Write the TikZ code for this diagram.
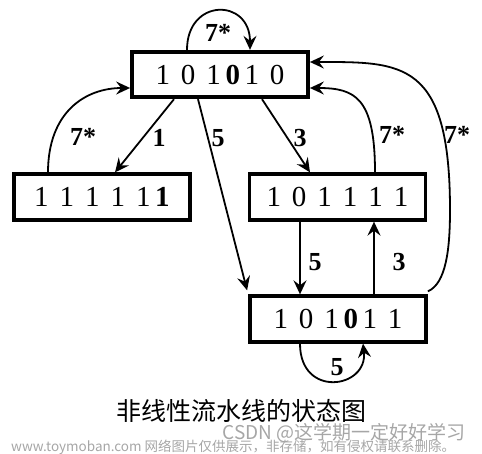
\documentclass[tikz,border=0pt]{standalone}
\usepackage{fontspec}
\setmainfont{Liberation Serif}
\newfontfamily\cjk{Noto Sans CJK SC}
\usetikzlibrary{arrows.meta,calc}
\newcommand\ga{\hspace{11pt}}
\newcommand\gb{\hspace{4.5pt}}
\begin{document}
\begin{tikzpicture}[x=1pt,y=-1pt,
  state/.style={draw,line width=3.8pt,minimum width=176pt,minimum height=45.5pt,inner sep=0pt,font=\fontsize{29}{29}\selectfont},
  conn/.style={line width=1.8pt,-{Stealth[length=14pt,width=13pt,inset=5pt]}},
  lab/.style={font=\fontsize{26}{26}\selectfont\bfseries,inner sep=0pt},
  title/.style={font=\cjk\fontsize{25}{25}\selectfont,inner sep=0pt},
  wm/.style={font=\cjk\fontsize{19}{19}\selectfont,inner sep=0pt,text=black!35},
  wms/.style={font=\cjk\fontsize{13.5}{13.5}\selectfont,inner sep=0pt,text=black!35}
]
\useasboundingbox (0,0) rectangle (482,453);

\node[state] (top) at (220,74.5) {1\ga0\ga1\gb\textbf{0}\gb1\ga0};
\node[state] (left) at (102,197) {1\ga1\ga1\ga1\ga1\gb\textbf{1}};
\node[state] (right) at (337.5,197) {1\ga0\ga1\ga1\ga1\ga1};
\node[state] (bottom) at (338,319) {1\ga0\ga1\gb\textbf{0}\gb1\ga1};

% anchor points
\coordinate (tl1) at ($(top.north)+(-33,0)$);
\coordinate (tl2) at ($(top.north)+(30,0)$);
\coordinate (t1) at ($(top.south)+(-46,0)$);
\coordinate (l1) at ($(left.north)+(13,0)$);
\coordinate (t5) at ($(top.south)+(-22,0)$);
\coordinate (b5) at ($(bottom.north west)+(-1,-4)$);
\coordinate (t3) at ($(top.south)+(42,0)$);
\coordinate (r3) at ($(right.north)+(-27.5,0)$);
\coordinate (r7) at ($(right.north)+(37.5,0)$);
\coordinate (t7r) at ($(top.east)+(0,13.5)$);
\coordinate (b7) at ($(bottom.north east)+(0,-3)$);
\coordinate (m) at (450,210);
\coordinate (t7b) at ($(top.east)+(0,-12.5)$);
\coordinate (l7) at ($(left.north)+(-54,0)$);
\coordinate (t7l) at ($(top.west)+(0,13.5)$);
\coordinate (r5) at ($(right.south)+(-37.5,0)$);
\coordinate (b5n) at ($(bottom.north)+(-38,0)$);
\coordinate (b3) at ($(bottom.north)+(36,0)$);
\coordinate (r3s) at ($(right.south)+(36.5,0)$);
\coordinate (bl1) at ($(bottom.south)+(-38,0)$);
\coordinate (bl2) at ($(bottom.south)+(25,0)$);

% connectors
\draw[conn] (tl1) .. controls +(0,-52) and +(0,-52) .. (tl2);
\draw[conn] (t1) -- (l1);
\draw[conn] (t5) -- (b5);
\draw[conn] (t3) -- (r3);
\draw[conn] (r7) .. controls +(0,-75) and +(45,0) .. (t7r);
\draw[conn] (b7) .. controls +(18,-8) and +(0,40) .. (m) .. controls +(0,-150) and +(92,0) .. (t7b);
\draw[conn] (l7) .. controls +(0,-60) and +(-45,0) .. (t7l);
\draw[conn] (r5) -- (b5n);
\draw[conn] (b3) -- (r3s);
\draw[conn] (bl1) .. controls +(0,55) and +(5,45) .. (bl2);

% labels
\node[lab] (la) at (218,33) {7*};
\node[lab] (lb) at (159,138) {1};
\node[lab] (lc) at (218,138) {5};
\node[lab] (ld) at (300,138) {3};
\node[lab] (le) at (392,135) {7*};
\node[lab] (lf) at (457,135) {7*};
\node[lab] (lg) at (83,137) {7*};
\node[lab] (lh) at (315,262) {5};
\node[lab] (li) at (399,262) {3};
\node[lab] (lj) at (337,367) {5};

\node[title] (ttl) at (241,411) {非线性流水线的状态图};
\node[wm] (wm1) at (344,433) {CSDN @这学期一定好好学习};
\node[wms,anchor=west] (wm2) at (11,447) {www.toymoban.com 网络图片仅供展示，非存储，如有侵权请联系删除。};
\end{tikzpicture}
\end{document}
